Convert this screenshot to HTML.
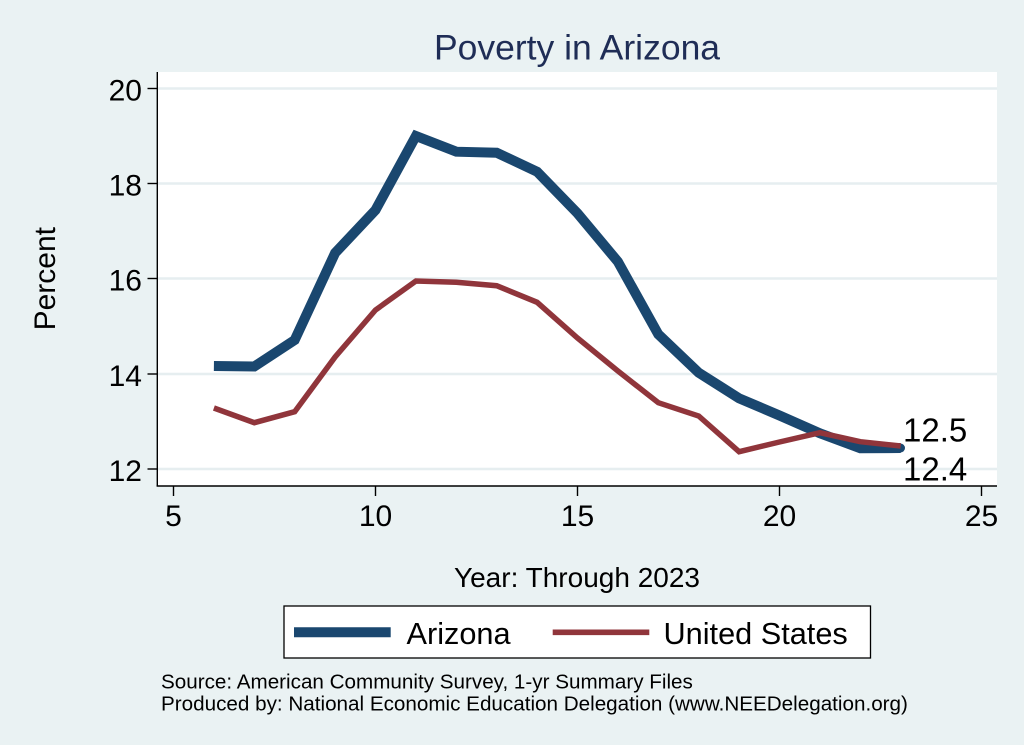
<!DOCTYPE html>
<html>
<head>
<meta charset="utf-8">
<style>
  html, body { margin: 0; padding: 0; background: #eaf2f3; }
  svg { display: block; }
  text { font-family: "Liberation Sans", Arial, Helvetica, sans-serif; }
</style>
</head>
<body>
<svg width="1024" height="745" viewBox="0 0 1024 745" xmlns="http://www.w3.org/2000/svg">
  <!-- background -->
  <rect x="0" y="0" width="1024" height="745" fill="#eaf2f3"/>
  <!-- plot region -->
  <rect x="157" y="72" width="840" height="414" fill="#ffffff"/>

  <!-- gridlines -->
  <g stroke="#e6eef0" stroke-width="2.4">
    <line x1="158" y1="88.5" x2="997" y2="88.5"/>
    <line x1="158" y1="183.5" x2="997" y2="183.5"/>
    <line x1="158" y1="278.5" x2="997" y2="278.5"/>
    <line x1="158" y1="374" x2="997" y2="374"/>
    <line x1="158" y1="469" x2="997" y2="469"/>
  </g>

  <!-- axes -->
  <g stroke="#000" stroke-width="1.4" fill="none">
    <line x1="157.3" y1="72" x2="157.3" y2="486.3"/>
    <line x1="156.6" y1="486" x2="997" y2="486"/>
    <!-- y ticks -->
    <line x1="147.5" y1="88.5" x2="157.3" y2="88.5"/>
    <line x1="147.5" y1="183.5" x2="157.3" y2="183.5"/>
    <line x1="147.5" y1="278.5" x2="157.3" y2="278.5"/>
    <line x1="147.5" y1="374" x2="157.3" y2="374"/>
    <line x1="147.5" y1="469" x2="157.3" y2="469"/>
    <!-- x ticks -->
    <line x1="173.5" y1="486" x2="173.5" y2="496"/>
    <line x1="375.5" y1="486" x2="375.5" y2="496"/>
    <line x1="577.5" y1="486" x2="577.5" y2="496"/>
    <line x1="779.5" y1="486" x2="779.5" y2="496"/>
    <line x1="981.5" y1="486" x2="981.5" y2="496"/>
  </g>

  <!-- y tick labels -->
  <g font-size="30" fill="#000" text-anchor="end">
    <text x="142" y="100.5">20</text>
    <text x="142" y="195.5">18</text>
    <text x="142" y="290.5">16</text>
    <text x="142" y="386">14</text>
    <text x="142" y="481">12</text>
  </g>
  <!-- x tick labels -->
  <g font-size="30" fill="#000" text-anchor="middle">
    <text x="173.5" y="526">5</text>
    <text x="375.5" y="526">10</text>
    <text x="577.5" y="526">15</text>
    <text x="779.5" y="526">20</text>
    <text x="981.5" y="526">25</text>
  </g>

  <!-- axis titles -->
  <text x="55" y="278.7" font-size="30" fill="#000" text-anchor="middle" transform="rotate(-90 55 278.7)">Percent</text>
  <text x="577" y="587" font-size="28" fill="#000" text-anchor="middle">Year: Through 2023</text>

  <!-- title -->
  <text x="577" y="59.3" font-size="35.5" fill="#1f2d56" text-anchor="middle">Poverty in Arizona</text>

  <!-- Arizona series -->
  <polyline fill="none" stroke="#1a476f" stroke-width="10" stroke-linejoin="miter" stroke-miterlimit="3" stroke-linecap="butt"
    points="213.9,366 254.3,366.5 294.7,340 335.1,253 375.5,210 415.9,136 456.3,151.7 496.7,152.7 537.1,171.7 577.5,213.3 617.9,261.7 658.3,334.3 698.7,372.7 739.1,398.3 779.5,415.5 819.9,433.3 860.3,448.3 900.7,448"/>
  <circle cx="900.5" cy="448" r="4.5" fill="#1a476f"/>

  <!-- United States series -->
  <polyline fill="none" stroke="#90353b" stroke-width="5.5" stroke-linejoin="miter" stroke-miterlimit="3" stroke-linecap="butt"
    points="213.9,408 254.3,422.7 294.7,411.7 335.1,357 375.5,310 415.9,281 456.3,282.3 496.7,285.7 537.1,302.3 577.5,338 617.9,371 658.3,402.7 698.7,416 739.1,451.7 779.5,442 819.9,432.7 860.3,441.7 900.7,446"/>

  <!-- end labels -->
  <text x="903" y="441.7" font-size="33" fill="#000">12.5</text>
  <text x="903" y="480.7" font-size="33" fill="#000">12.4</text>

  <!-- legend -->
  <rect x="284" y="606" width="586.5" height="52" fill="#ffffff" stroke="#000" stroke-width="1.3"/>
  <line x1="294" y1="632.3" x2="390.7" y2="632.3" stroke="#1a476f" stroke-width="10"/>
  <text x="406.5" y="644" font-size="30.7" fill="#000">Arizona</text>
  <line x1="552.7" y1="632.3" x2="649.3" y2="632.3" stroke="#90353b" stroke-width="5.7"/>
  <text x="663.5" y="644" font-size="30.7" fill="#000">United States</text>

  <!-- notes -->
  <g font-size="20.65" fill="#000">
    <text x="161" y="688.5">Source: American Community Survey, 1-yr Summary Files</text>
    <text x="161" y="710.5">Produced by: National Economic Education Delegation (www.NEEDelegation.org)</text>
  </g>
</svg>
</body>
</html>
